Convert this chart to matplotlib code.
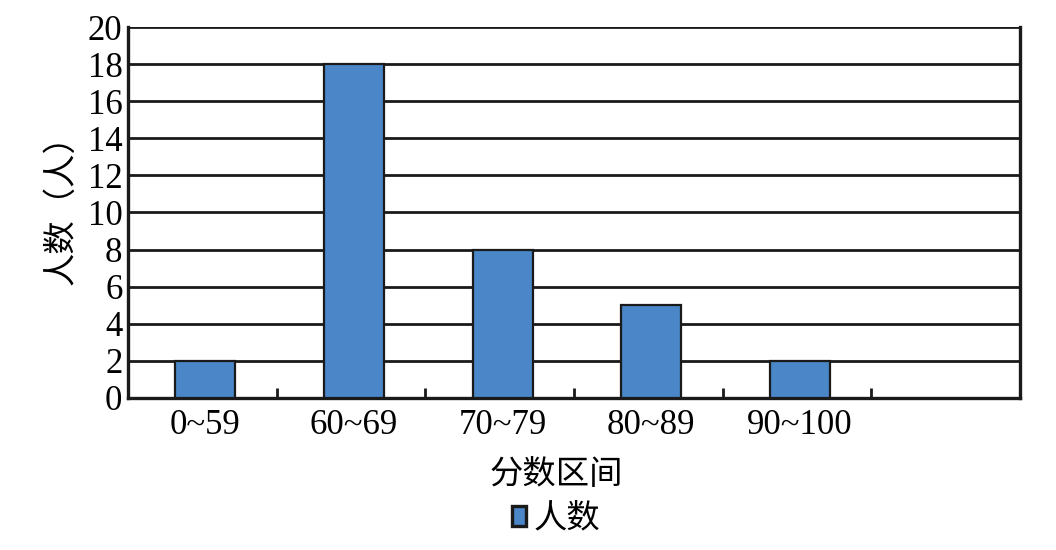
import matplotlib
matplotlib.use('Agg')
import matplotlib.pyplot as plt
from matplotlib.ticker import FixedLocator

# data
categories = ['0~59', '60~69', '70~79', '80~89', '90~100']
counts = [2, 18, 8, 5, 2]
n_slots = 6  # the axis leaves one empty slot on the right
yticks = list(range(0, 21, 2))

serif = ['Liberation Serif', 'DejaVu Serif']
cjk = ['Noto Sans CJK SC', 'DejaVu Sans']

fig = plt.figure(figsize=(10.56, 5.5), dpi=100)
ax = fig.add_axes([0.1212, 0.2764, 0.8447, 0.6745])

x = [i + 0.02 for i in range(len(categories))]
bars = ax.bar(x, counts, width=0.405, color='#4a86c8', edgecolor='#1a1a1a',
              linewidth=1.6, zorder=3, label='人数')

ax.set_xlim(-0.5, n_slots - 0.5)
ax.set_ylim(0, 20)

ax.set_yticks(yticks)
ax.set_yticklabels([str(v) for v in yticks], fontfamily=serif, fontsize=25)
ax.tick_params(axis='y', length=0, pad=4)

ax.set_xticks(x)
ax.set_xticklabels(categories, fontfamily=serif, fontsize=25)
ax.tick_params(axis='x', which='major', length=0, pad=8)
ax.xaxis.set_minor_locator(FixedLocator([i + 0.5 for i in range(len(categories))]))
ax.tick_params(axis='x', which='minor', direction='in', length=7,
               width=2, color='#1a1a1a')

for v in yticks[1:]:
    ax.axhline(v, color='#1a1a1a', linewidth=2, zorder=2)

for side in ['left', 'bottom', 'right']:
    ax.spines[side].set_linewidth(2.4)
    ax.spines[side].set_color('#1a1a1a')
ax.spines['top'].set_visible(False)

ax.set_ylabel('人数（人）', fontfamily=cjk, fontsize=24)
ax.yaxis.set_label_coords(-0.056, 0.53)

fig.text(0.527, 0.138, '分数区间', fontfamily=cjk, fontsize=24,
         ha='center', va='center')

leg = fig.legend(handles=[bars], labels=['人数'], loc='center',
                 bbox_to_anchor=(0.527, 0.058), frameon=False,
                 prop={'family': cjk, 'size': 24}, handlelength=0.4,
                 handleheight=0.55, handletextpad=0.25)
leg.legend_handles[0].set_linewidth(2.4)

fig.savefig('out.png', dpi=100)
plt.close(fig)
